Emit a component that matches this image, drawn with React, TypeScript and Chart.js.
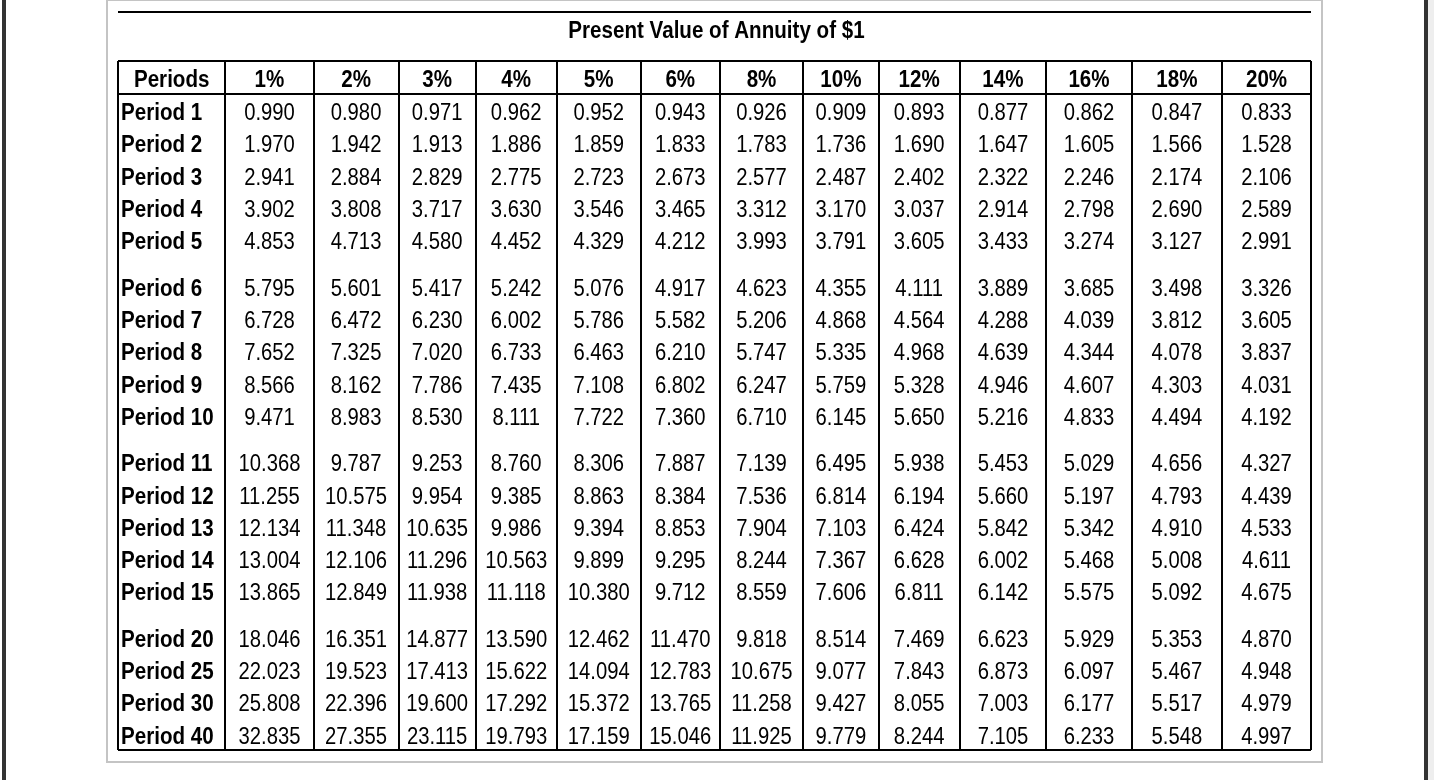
import React, { useEffect, useRef } from "react";
import { Chart, registerables } from "chart.js";

Chart.register(...registerables);

// ---------------- data ----------------
const TITLE = "Present Value of Annuity of $1";
const FIRST_HEADER = "Periods";
const RATE_LABELS = ["1%", "2%", "3%", "4%", "5%", "6%", "8%", "10%", "12%", "14%", "16%", "18%", "20%"];
const PERIOD_LABELS = [
  "Period 1", "Period 2", "Period 3", "Period 4", "Period 5",
  "Period 6", "Period 7", "Period 8", "Period 9", "Period 10",
  "Period 11", "Period 12", "Period 13", "Period 14", "Period 15",
  "Period 20", "Period 25", "Period 30", "Period 40",
];
const PERIOD_GROUP_SIZES = [5, 5, 5, 4];

const P1 = [0.990, 0.980, 0.971, 0.962, 0.952, 0.943, 0.926, 0.909, 0.893, 0.877, 0.862, 0.847, 0.833];
const P2 = [1.970, 1.942, 1.913, 1.886, 1.859, 1.833, 1.783, 1.736, 1.690, 1.647, 1.605, 1.566, 1.528];
const P3 = [2.941, 2.884, 2.829, 2.775, 2.723, 2.673, 2.577, 2.487, 2.402, 2.322, 2.246, 2.174, 2.106];
const P4 = [3.902, 3.808, 3.717, 3.630, 3.546, 3.465, 3.312, 3.170, 3.037, 2.914, 2.798, 2.690, 2.589];
const P5 = [4.853, 4.713, 4.580, 4.452, 4.329, 4.212, 3.993, 3.791, 3.605, 3.433, 3.274, 3.127, 2.991];
const P6 = [5.795, 5.601, 5.417, 5.242, 5.076, 4.917, 4.623, 4.355, 4.111, 3.889, 3.685, 3.498, 3.326];
const P7 = [6.728, 6.472, 6.230, 6.002, 5.786, 5.582, 5.206, 4.868, 4.564, 4.288, 4.039, 3.812, 3.605];
const P8 = [7.652, 7.325, 7.020, 6.733, 6.463, 6.210, 5.747, 5.335, 4.968, 4.639, 4.344, 4.078, 3.837];
const P9 = [8.566, 8.162, 7.786, 7.435, 7.108, 6.802, 6.247, 5.759, 5.328, 4.946, 4.607, 4.303, 4.031];
const P10 = [9.471, 8.983, 8.530, 8.111, 7.722, 7.360, 6.710, 6.145, 5.650, 5.216, 4.833, 4.494, 4.192];
const P11 = [10.368, 9.787, 9.253, 8.760, 8.306, 7.887, 7.139, 6.495, 5.938, 5.453, 5.029, 4.656, 4.327];
const P12 = [11.255, 10.575, 9.954, 9.385, 8.863, 8.384, 7.536, 6.814, 6.194, 5.660, 5.197, 4.793, 4.439];
const P13 = [12.134, 11.348, 10.635, 9.986, 9.394, 8.853, 7.904, 7.103, 6.424, 5.842, 5.342, 4.910, 4.533];
const P14 = [13.004, 12.106, 11.296, 10.563, 9.899, 9.295, 8.244, 7.367, 6.628, 6.002, 5.468, 5.008, 4.611];
const P15 = [13.865, 12.849, 11.938, 11.118, 10.380, 9.712, 8.559, 7.606, 6.811, 6.142, 5.575, 5.092, 4.675];
const P20 = [18.046, 16.351, 14.877, 13.590, 12.462, 11.470, 9.818, 8.514, 7.469, 6.623, 5.929, 5.353, 4.870];
const P25 = [22.023, 19.523, 17.413, 15.622, 14.094, 12.783, 10.675, 9.077, 7.843, 6.873, 6.097, 5.467, 4.948];
const P30 = [25.808, 22.396, 19.600, 17.292, 15.372, 13.765, 11.258, 9.427, 8.055, 7.003, 6.177, 5.517, 4.979];
const P40 = [32.835, 27.355, 23.115, 19.793, 17.159, 15.046, 11.925, 9.779, 8.244, 7.105, 6.233, 5.548, 4.997];

const ROW_VALUES = [P1, P2, P3, P4, P5, P6, P7, P8, P9, P10, P11, P12, P13, P14, P15, P20, P25, P30, P40];

// ---------------- layout (relative sizes fed to the scales) ----------------
const COLUMN_WEIGHTS = [107.5, 88.3, 85, 77.2, 81.2, 84, 79.3, 83.3, 75.7, 81, 86.7, 85.6, 90.4, 89];
const HEADER_WEIGHT = 33.3;
const ROW_WEIGHT = 32.3;
const GROUP_GAP_WEIGHT = 14.2;

const FONT = "'Liberation Sans', Arial, Helvetica, sans-serif";
const TEXT_SIZE = 23;
const SQUEEZE_REGULAR = 0.88;
const SQUEEZE_BOLD = 0.895;

function buildLayout() {
  const colEdges: number[] = [0];
  COLUMN_WEIGHTS.forEach((w) => colEdges.push(colEdges[colEdges.length - 1] + w));
  const rowCenters: number[] = [];
  let y = HEADER_WEIGHT;
  PERIOD_GROUP_SIZES.forEach((size, g) => {
    if (g > 0) y += GROUP_GAP_WEIGHT;
    for (let i = 0; i < size; i++) {
      rowCenters.push(y + ROW_WEIGHT / 2);
      y += ROW_WEIGHT;
    }
  });
  return { colEdges, rowCenters, yMax: y };
}

function drawSqueezed(ctx: CanvasRenderingContext2D, text: string, x: number, y: number, align: CanvasTextAlign, sx: number) {
  ctx.save();
  ctx.translate(x, y);
  ctx.scale(sx, 1);
  ctx.textAlign = align;
  ctx.textBaseline = "alphabetic";
  ctx.fillText(text, 0, 0);
  ctx.restore();
}

export default function App() {
  const canvasRef = useRef<HTMLCanvasElement | null>(null);

  useEffect(() => {
    const canvas = canvasRef.current;
    if (!canvas) return;
    const { colEdges, rowCenters, yMax } = buildLayout();
    const xMax = colEdges[colEdges.length - 1];

    const rateDatasets = RATE_LABELS.map((label, j) => ({
      label,
      data: PERIOD_LABELS.map((_, r) => ({
        x: (colEdges[j + 1] + colEdges[j + 2]) / 2,
        y: rowCenters[r],
        text: ROW_VALUES[r][j].toFixed(3),
      })),
      pointRadius: 0,
      pointHoverRadius: 0,
      showLine: false,
      bold: false,
      align: "center",
    }));
    const labelDataset = {
      label: FIRST_HEADER,
      data: PERIOD_LABELS.map((p, r) => ({ x: colEdges[0], y: rowCenters[r], text: p })),
      pointRadius: 0,
      pointHoverRadius: 0,
      showLine: false,
      bold: true,
      align: "left",
    };

    const tablePlugin = {
      id: "tableText",
      beforeDraw(chart: any) {
        const ctx: CanvasRenderingContext2D = chart.ctx;
        const a = chart.chartArea;
        ctx.save();
        // page frame
        ctx.fillStyle = "#333333";
        ctx.fillRect(2, 0, 4, chart.height);
        ctx.fillRect(chart.width - 10, 0, 4, chart.height);
        ctx.fillStyle = "#eeeeee";
        ctx.fillRect(chart.width - 6, 0, 6, chart.height);
        ctx.strokeStyle = "#c4c4c4";
        ctx.lineWidth = 2;
        ctx.strokeRect(a.left - 11, 0, a.right - a.left + 22, a.bottom + 12 - 0);
        // title rule
        ctx.fillStyle = "#000000";
        ctx.fillRect(a.left, a.top - 50, a.right - a.left, 2);
        // title
        ctx.font = `bold ${TEXT_SIZE}px ${FONT}`;
        drawSqueezed(ctx, TITLE, (a.left + a.right) / 2 + 2, a.top - 22.7, "center", SQUEEZE_BOLD);
        ctx.restore();
      },
      afterDraw(chart: any) {
        const ctx: CanvasRenderingContext2D = chart.ctx;
        const xs = chart.scales.x;
        const ys = chart.scales.y;
        ctx.save();
        ctx.fillStyle = "#000000";
        // header row
        ctx.font = `bold ${TEXT_SIZE}px ${FONT}`;
        const headerY = ys.getPixelForValue(HEADER_WEIGHT / 2) + 9.8;
        const headers = [FIRST_HEADER, ...RATE_LABELS];
        headers.forEach((h, i) => {
          const cx = xs.getPixelForValue((colEdges[i] + colEdges[i + 1]) / 2);
          drawSqueezed(ctx, h, cx, headerY, "center", SQUEEZE_BOLD);
        });
        // body cells
        chart.data.datasets.forEach((ds: any, di: number) => {
          const meta = chart.getDatasetMeta(di);
          ctx.font = `${ds.bold ? "bold " : ""}${TEXT_SIZE}px ${FONT}`;
          meta.data.forEach((el: any, k: number) => {
            const raw = ds.data[k];
            const x = ds.align === "left" ? el.x + 3 : el.x;
            drawSqueezed(ctx, raw.text, x, el.y + 9.8, ds.align, ds.bold ? SQUEEZE_BOLD : SQUEEZE_REGULAR);
          });
        });
        ctx.restore();
      },
    };

    const chart = new Chart(canvas, {
      type: "scatter",
      data: { datasets: [labelDataset, ...rateDatasets] as any },
      options: {
        animation: false,
        responsive: false,
        devicePixelRatio: 1,
        events: [],
        layout: { padding: { left: 118, right: 123, top: 61, bottom: 30 } },
        plugins: { legend: { display: false }, tooltip: { enabled: false }, title: { display: false } },
        scales: {
          x: {
            type: "linear",
            min: 0,
            max: xMax,
            ticks: { display: false },
            grid: { color: "#000000", lineWidth: 2, drawTicks: false },
            border: { display: false },
            afterBuildTicks: (s: any) => {
              s.ticks = colEdges.map((v) => ({ value: v }));
            },
          },
          y: {
            type: "linear",
            reverse: true,
            min: 0,
            max: yMax,
            ticks: { display: false },
            grid: { color: "#000000", lineWidth: 2, drawTicks: false },
            border: { display: false },
            afterBuildTicks: (s: any) => {
              s.ticks = [0, HEADER_WEIGHT, yMax].map((v) => ({ value: v }));
            },
          },
        },
      } as any,
      plugins: [tablePlugin],
    });
    return () => chart.destroy();
  }, []);

  return (
    <canvas
      ref={canvasRef}
      width={1434}
      height={780}
      style={{ position: "fixed", left: 0, top: 0, width: 1434, height: 780, background: "#ffffff" }}
    />
  );
}
